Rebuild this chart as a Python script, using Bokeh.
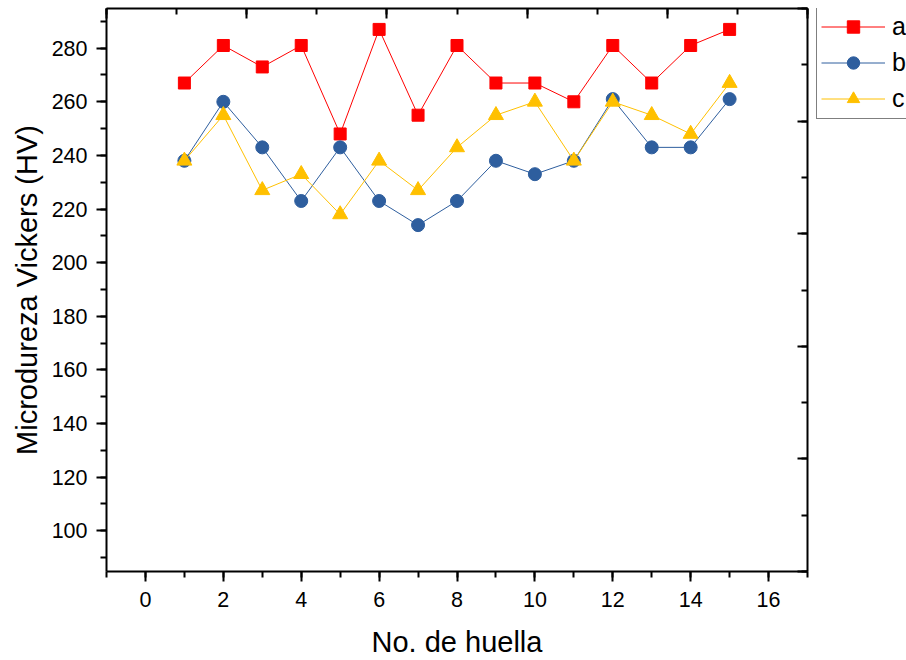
from bokeh.plotting import figure
from bokeh.layouts import row
from bokeh.models import (Range1d, LinearAxis, SingleIntervalTicker, Legend, LegendItem)
from bokeh.embed import file_html
from bokeh.resources import INLINE

# Data
x_huella = list(range(1, 16))
serie_a = [267, 281, 273, 281, 248, 287, 255, 281, 267, 267, 260, 281, 267, 281, 287]
serie_b = [238, 260, 243, 223, 243, 223, 214, 223, 238, 233, 238, 261, 243, 243, 261]
serie_c = [238, 255, 227, 233, 218, 238, 227, 243, 255, 260, 238, 260, 255, 248, 267]
labels = ["a", "b", "c"]

FONT = "Liberation Sans"
red = "#FF0000"
blue = "#2E5E9E"
yellow = "#FFC000"

p = figure(width=812, height=660, output_backend="svg", toolbar_location=None,
           x_range=Range1d(-1, 17), y_range=Range1d(84.8, 294.8),
           min_border_left=106, min_border_right=5, min_border_top=8, min_border_bottom=86,
           background_fill_color="white", border_fill_color="white")
p.grid.visible = False
p.outline_line_color = None

def style_axis(ax):
    ax.axis_line_color = "black"
    ax.axis_line_width = 2
    ax.major_tick_line_color = "black"
    ax.minor_tick_line_color = "black"
    ax.major_tick_line_width = 2
    ax.minor_tick_line_width = 2
    ax.major_label_text_font = FONT
    ax.major_label_text_font_size = "21.5px"
    ax.major_label_text_color = "black"
    ax.axis_label_text_font = FONT
    ax.axis_label_text_font_size = "29px"
    ax.axis_label_text_font_style = "normal"
    ax.axis_label_text_color = "black"

xa = p.xaxis[0]
style_axis(xa)
xa.ticker = SingleIntervalTicker(interval=2, num_minor_ticks=2)
xa.major_tick_out = 10
xa.major_tick_in = 0
xa.minor_tick_out = 6
xa.minor_tick_in = 0
xa.major_label_standoff = 10
xa.axis_label = "No. de huella"
xa.axis_label_standoff = 16

ya = p.yaxis[0]
style_axis(ya)
ya.ticker = SingleIntervalTicker(interval=20, num_minor_ticks=2)
ya.major_tick_out = 10
ya.major_tick_in = 0
ya.minor_tick_out = 6
ya.minor_tick_in = 0
ya.major_label_standoff = 9
ya.axis_label = "Microdureza Vickers (HV)"
ya.axis_label_standoff = 6

p.extra_x_ranges = {"top": Range1d(0, 5)}
p.extra_y_ranges = {"right": Range1d(0, 5)}

top = LinearAxis(x_range_name="top")
style_axis(top)
top.ticker = SingleIntervalTicker(interval=1, num_minor_ticks=2)
top.major_tick_in = 10
top.major_tick_out = 0
top.minor_tick_in = 6
top.minor_tick_out = 0
top.major_label_text_font_size = "0px"
top.major_label_text_color = None
top.major_label_standoff = 0
p.add_layout(top, "above")

right = LinearAxis(y_range_name="right")
style_axis(right)
right.ticker = SingleIntervalTicker(interval=1, num_minor_ticks=2)
right.major_tick_in = 10
right.major_tick_out = 0
right.minor_tick_in = 6
right.minor_tick_out = 0
right.major_label_text_font_size = "0px"
right.major_label_text_color = None
right.major_label_standoff = 0
p.add_layout(right, "right")

def draw_series(fig):
    la = fig.line(x_huella, serie_a, line_color=red, line_width=1)
    sa = fig.scatter(x_huella, serie_a, marker="square", size=12, fill_color=red, line_color=red)
    lb = fig.line(x_huella, serie_b, line_color=blue, line_width=1)
    sb = fig.scatter(x_huella, serie_b, marker="circle", size=13, fill_color=blue, line_color=blue)
    lc = fig.line(x_huella, serie_c, line_color=yellow, line_width=1)
    sc = fig.scatter(x_huella, serie_c, marker="triangle", size=15, fill_color=yellow, line_color=yellow)
    return [(la, sa), (lb, sb), (lc, sc)]

draw_series(p)

# Legend panel (separate narrow figure; its own series lie outside its view)
lg = figure(width=94, height=660, output_backend="svg", toolbar_location=None,
            x_range=Range1d(1000, 1001), y_range=Range1d(1000, 1001),
            x_axis_location=None, y_axis_location=None,
            min_border=0, background_fill_color="white", border_fill_color="white")
lg.grid.visible = False
lg.outline_line_color = None
rends = draw_series(lg)

legend = Legend(items=[LegendItem(label=labels[i], renderers=list(rends[i])) for i in range(3)],
                location=(4, 452))
legend.border_line_color = "black"
legend.border_line_width = 1
legend.background_fill_color = "white"
legend.background_fill_alpha = 1
legend.label_text_font = FONT
legend.label_text_font_size = "25px"
legend.label_text_color = "black"
legend.glyph_width = 64
legend.glyph_height = 31
legend.label_height = 31
legend.label_width = 14
legend.label_standoff = 7
legend.spacing = 5
legend.padding = 4
legend.margin = 0
lg.add_layout(legend, "center")

layout = row(p, lg, spacing=0)
open("out.html", "w").write(file_html(layout, INLINE))
